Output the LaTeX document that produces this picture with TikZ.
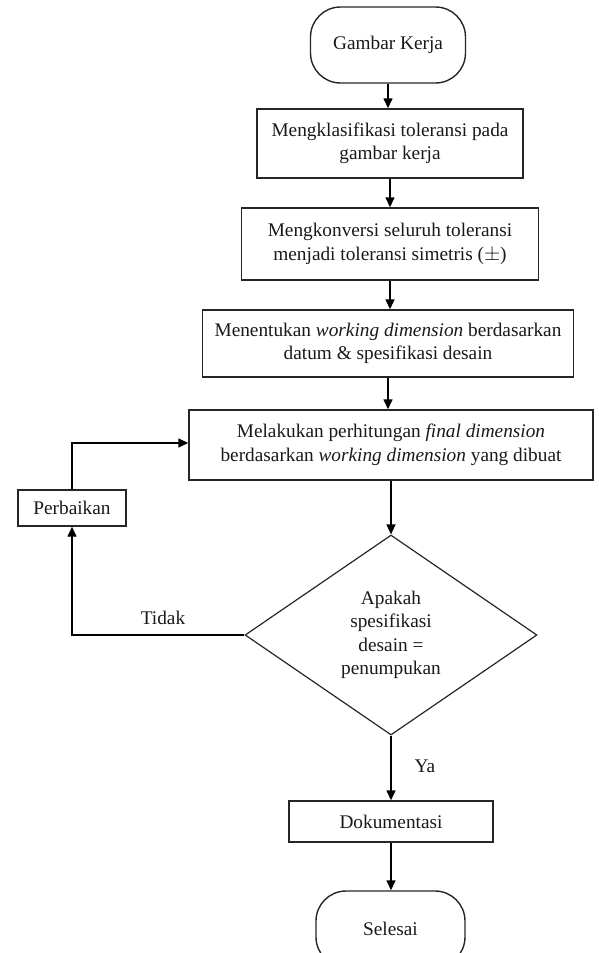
\documentclass[tikz,border=0pt]{standalone}
\usepackage{fontspec}
\setmainfont{Liberation Serif}
\usetikzlibrary{shapes.geometric,arrows.meta}
\begin{document}
\begin{tikzpicture}[x=1pt,y=-1pt,
  every node/.style={font=\fontsize{19.3}{23.5}\selectfont, inner sep=0pt, align=center, text=black!90},
  box/.style={draw=black!85, line width=1.4pt, rectangle},
  term/.style={draw=black!85, line width=1.4pt, rectangle, rounded corners=30pt},
  dec/.style={draw=black!85, line width=1.2pt, diamond, aspect=1.46},
  arr/.style={draw=black, line width=1.4pt, -{Triangle[length=10pt,width=9pt]}}]
\useasboundingbox (0,0) rectangle (599,953);
\node[term, minimum width=155pt, minimum height=76pt] (start) at (388,45) {Gambar Kerja};
\node[box, minimum width=266pt, minimum height=69pt] (b1) at (390,143.5) {Mengklasifikasi toleransi pada\\gambar kerja};
\node[box, minimum width=297pt, minimum height=72pt] (b2) at (390,244) {Mengkonversi seluruh toleransi\\menjadi toleransi simetris ($\pm$)};
\node[box, minimum width=371pt, minimum height=67pt] (b3) at (388,343.5) {Menentukan \textit{working dimension} berdasarkan\\datum \& spesifikasi desain};
\node[box, minimum width=404pt, minimum height=70pt] (b4) at (391,445) {Melakukan perhitungan \textit{final dimension}\\berdasarkan \textit{working dimension} yang dibuat};
\node[box, minimum width=108pt, minimum height=36pt] (perb) at (72,508) {Perbaikan};
\node[dec, minimum width=292pt, minimum height=200pt] (d) at (391,635) {Apakah\\spesifikasi\\desain =\\penumpukan};
\node[box, minimum width=204pt, minimum height=41pt] (dok) at (391,821.5) {Dokumentasi};
\node[term, minimum width=149pt, minimum height=76pt] (end) at (390.5,929) {Selesai};
\node (tidak) at (163,618) {Tidak};
\node (ya) at (425,766) {Ya};
\draw[arr] (start.south) -- (start.south |- b1.north);
\draw[arr] (b1.south) -- (b1.south |- b2.north);
\draw[arr] (b2.south) -- (b2.south |- b3.north);
\draw[arr] (b3.south) -- (b3.south |- b4.north);
\draw[arr] (b4.south) -- (b4.south |- d.north);
\draw[arr] (d.south) -- (d.south |- dok.north);
\draw[arr] (dok.south) -- (dok.south |- end.north);
\draw[arr] (d.west) -| (perb.south);
\draw[arr] (perb.north) |- ([yshift=2pt]b4.west);
\end{tikzpicture}
\end{document}
